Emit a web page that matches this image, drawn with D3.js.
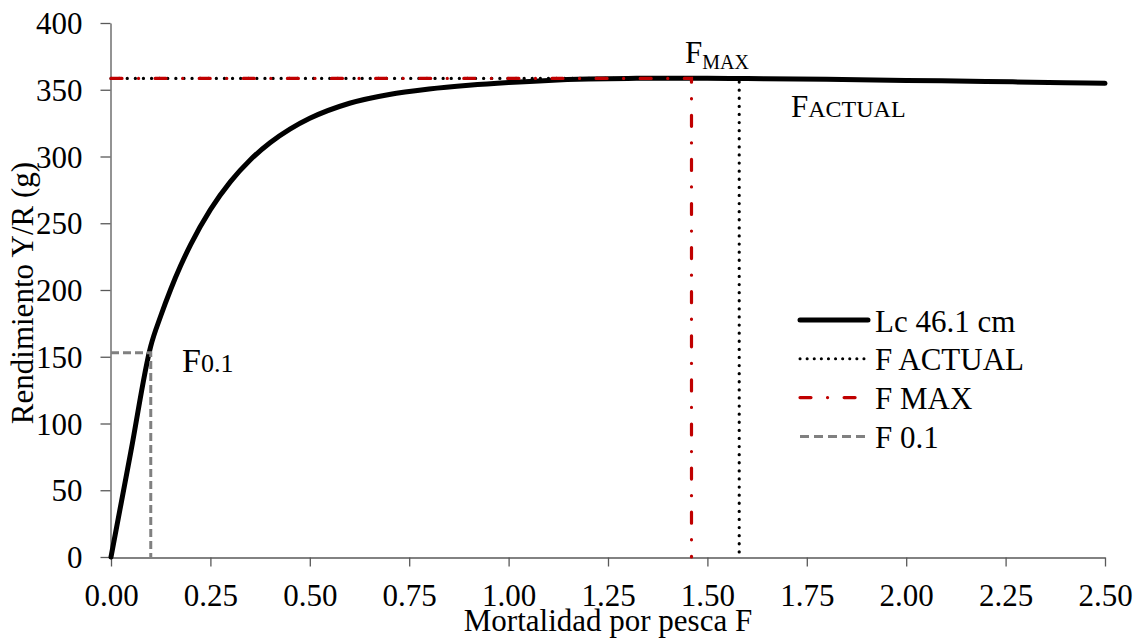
<!DOCTYPE html>
<html>
<head>
<meta charset="utf-8">
<script src="https://cdn.jsdelivr.net/npm/d3@7"></script>
<style>
  html, body { margin: 0; padding: 0; background: #ffffff; }
  svg { display: block; font-family: "Liberation Serif", "Times New Roman", serif; }
</style>
</head>
<body>
<svg id="chart" width="1138" height="638"></svg>
<script>
// ---- Data ----
const fValues = [0, 0.05, 0.1, 0.125, 0.15, 0.175, 0.2, 0.25, 0.3, 0.35, 0.4, 0.45, 0.5, 0.6, 0.7, 0.8, 0.9, 1.0, 1.1, 1.2, 1.3, 1.4, 1.5, 1.6, 1.8, 2.0, 2.2, 2.4, 2.5];
const yieldValues = [0, 79, 158, 180.5, 200.4, 218.1, 233.8, 260.2, 281, 297.4, 310.3, 320.5, 328.6, 339.9, 346.5, 350.5, 353.3, 355.4, 357.0, 358.0, 358.5, 358.7, 358.6, 358.4, 357.8, 357.0, 356.2, 355.3, 354.8];
const fActual = 1.58;
const fMax = 1.46;
const f01 = 0.1;
const yMax = 358.5;
const y01 = 153;
const xTicks = [0, 0.25, 0.5, 0.75, 1.0, 1.25, 1.5, 1.75, 2.0, 2.25, 2.5];
const yTicks = [0, 50, 100, 150, 200, 250, 300, 350, 400];
const legendLabels = ["Lc 46.1 cm", "F ACTUAL", "F MAX", "F 0.1"];
const xTitle = "Mortalidad por pesca F";
const yTitle = "Rendimiento Y/R (g)";

// ---- Layout ----
const svg = d3.select("#chart");
const x = d3.scaleLinear().domain([0, 2.5]).range([111, 1105]);
const y = d3.scaleLinear().domain([0, 400]).range([557, 23]);
const axisColor = "#595959";
const fontSize = 31;

// Axes
const xAxis = d3.axisBottom(x).tickValues(xTicks).tickFormat(d3.format(".2f")).tickSizeOuter(0).tickSizeInner(9).tickPadding(17);
const yAxis = d3.axisLeft(y).tickValues(yTicks).tickFormat(d3.format("d")).tickSizeOuter(0).tickSizeInner(10).tickPadding(18);

const gx = svg.append("g").attr("transform", `translate(0,${y(0) + 0.5})`).call(xAxis);
const gy = svg.append("g").attr("transform", `translate(${x(0) - 0.5},0)`).call(yAxis);
[gx, gy].forEach(g => {
  g.attr("font-family", "'Liberation Serif', 'Times New Roman', serif");
  g.select(".domain").attr("stroke", axisColor).attr("stroke-width", 1.3);
  g.selectAll(".tick line").attr("stroke", axisColor).attr("stroke-width", 1.3);
  g.selectAll(".tick text").attr("fill", "#000").attr("font-size", fontSize);
});
gy.selectAll(".tick text").attr("dy", "0.34em");

// Curve
const line = d3.line().x((d, i) => x(fValues[i])).y(d => y(d)).curve(d3.curveMonotoneX);
svg.append("path").datum(yieldValues)
  .attr("d", line)
  .attr("fill", "none").attr("stroke", "#000").attr("stroke-width", 5)
  .attr("stroke-linejoin", "round").attr("stroke-linecap", "round");

// Reference lines
const refs = svg.append("g");
// F0.1 grey dashed
refs.append("path")
  .attr("d", `M${x(0)},${y(y01)}H${x(f01)}V${y(0)}`)
  .attr("fill", "none").attr("stroke", "#808080").attr("stroke-width", 3).attr("stroke-dasharray", "8,4");
// F actual black dotted
refs.append("path")
  .attr("d", `M${x(0)},${y(yMax)}H${x(fActual)}V${y(0)}`)
  .attr("fill", "none").attr("stroke", "#000").attr("stroke-width", 3.2)
  .attr("stroke-dasharray", "0.1,8").attr("stroke-linecap", "round");
// F max red dash-dot
refs.append("path")
  .attr("d", `M${x(0)},${y(yMax)}H${x(fMax)}V${y(0)}`)
  .attr("fill", "none").attr("stroke", "#c00000").attr("stroke-width", 3.2)
  .attr("stroke-dasharray", "11,16.5,0.1,16.5").attr("stroke-linecap", "round");

// Annotations
const ann = svg.append("g").attr("fill", "#000");
const tMax = ann.append("text").attr("x", 685).attr("y", 63).attr("font-size", fontSize);
tMax.append("tspan").text("F");
tMax.append("tspan").attr("font-size", 20).attr("dy", 6).text("MAX");

const tAct = ann.append("text").attr("x", 791).attr("y", 117).attr("font-size", fontSize);
tAct.append("tspan").text("F");
tAct.append("tspan").attr("font-size", 24).text("ACTUAL");

const t01 = ann.append("text").attr("x", 182).attr("y", 372).attr("font-size", 34);
t01.append("tspan").text("F");
t01.append("tspan").attr("font-size", 26).text("0.1");

// Axis titles
svg.append("text").attr("x", (x(0) + x(2.5)) / 2).attr("y", 631)
  .attr("text-anchor", "middle").attr("font-size", 31).text(xTitle);
svg.append("text").attr("transform", `translate(33,293) rotate(-90)`)
  .attr("text-anchor", "middle").attr("font-size", fontSize).text(yTitle);

// Legend
const legendStyles = [
  { stroke: "#000", width: 5, dash: null, cap: "round" },
  { stroke: "#000", width: 3, dash: "0.1,7", cap: "round" },
  { stroke: "#c00000", width: 3.2, dash: "11,16.5,0.1,16.5", cap: "round" },
  { stroke: "#808080", width: 3, dash: "9,5", cap: "butt" }
];
const legend = svg.append("g");
legendLabels.forEach((lab, i) => {
  const cy = 320 + i * 38.8;
  const st = legendStyles[i];
  const ln = legend.append("line").attr("x1", 800).attr("x2", 868).attr("y1", cy).attr("y2", cy)
    .attr("stroke", st.stroke).attr("stroke-width", st.width).attr("stroke-linecap", st.cap);
  if (st.dash) ln.attr("stroke-dasharray", st.dash);
  legend.append("text").attr("x", 875).attr("y", cy + 11.5).attr("font-size", fontSize).text(lab);
});
</script>
</body>
</html>
